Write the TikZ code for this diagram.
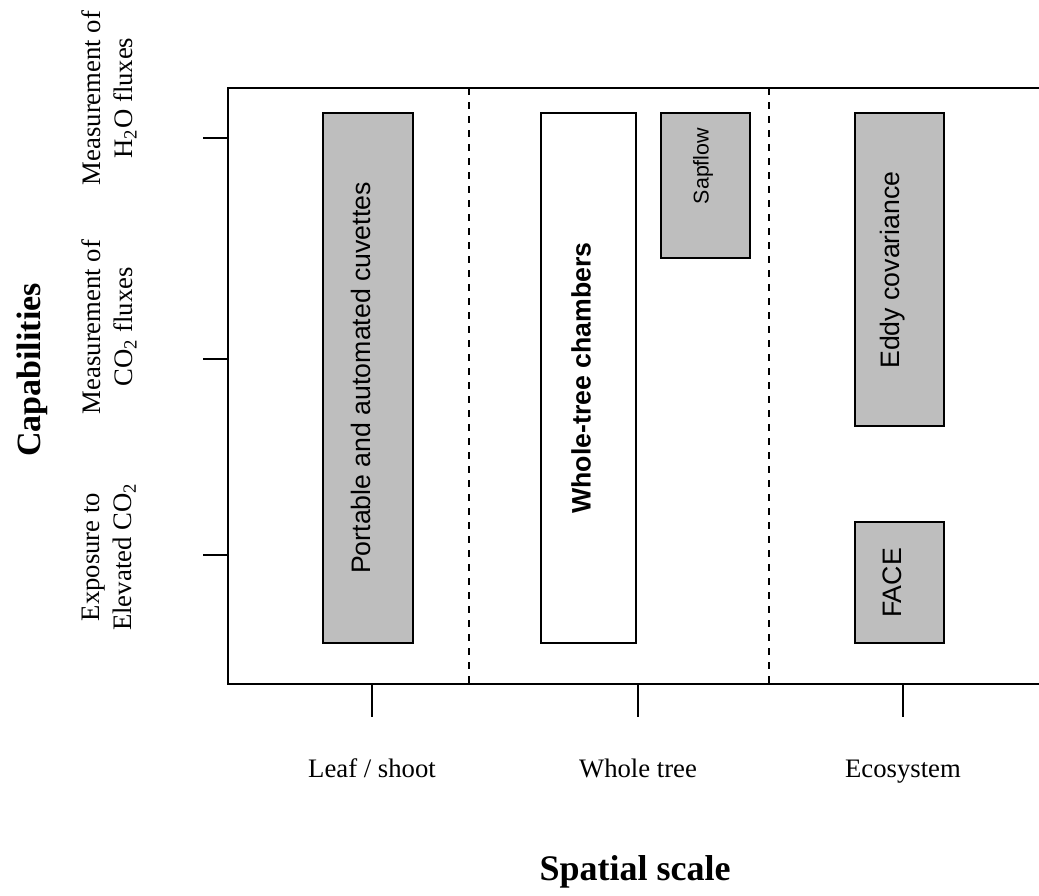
\documentclass[tikz,border=0pt]{standalone}
\usepackage{fontspec}
\setmainfont{Liberation Serif}
\setsansfont{Liberation Sans}
\definecolor{shade}{HTML}{BEBEBE}
\begin{document}
\begin{tikzpicture}[x=0.5pt,y=-0.5pt,
    axis/.style={line width=0.9pt},
    divider/.style={line width=0.9pt,dash pattern=on 3.5pt off 3.5pt},
    method/.style={draw,line width=0.9pt,fill=shade},
    methodlabel/.style={rotate=90,inner sep=0pt,font=\sffamily\fontsize{13.35}{16}\selectfont},
    caplabel/.style={rotate=90,align=center,inner sep=0pt,font=\fontsize{13.35}{16}\selectfont},
    scalelabel/.style={anchor=base,inner sep=0pt,font=\fontsize{13.35}{16}\selectfont},
    title/.style={inner sep=0pt,font=\bfseries\fontsize{18}{21}\selectfont}]
  \useasboundingbox (0,0) rectangle (1039,895);

  \coordinate (tl) at (228,88);
  \coordinate (bl) at (228,684);
  \draw[axis] (1039,88) -- (tl) -- (bl) -- (1039,684);

  \draw[divider] (469,88) -- (469,684);
  \draw[divider] (769,88) -- (769,684);

  \foreach \y in {138,359,555} \draw[axis] (203,\y) -- (228,\y);
  \foreach \x in {372,638,903} \draw[axis] (\x,684) -- (\x,717);

  \draw[method] (323,113) rectangle (413,643);
  \draw[method,fill=white] (541,113) rectangle (636,643);
  \draw[method] (661,113) rectangle (750,258);
  \draw[method] (855,113) rectangle (944,426);
  \draw[method] (855,522) rectangle (944,643);

  \node[methodlabel] (cuvettes) at (361,378) {Portable and automated cuvettes};
  \node[methodlabel] (chambers) at (581,378) {\bfseries Whole-tree chambers};
  \node[methodlabel] (sapflow) at (703,166) {\fontsize{10.7}{13}\selectfont Sapflow};
  \node[methodlabel] (eddy) at (893,270) {Eddy covariance};
  \node[methodlabel] (face) at (892,583) {FACE};

  \node[caplabel] (h2o) at (109,98) {Measurement of\\H\textsubscript{2}O fluxes};
  \node[caplabel] (co2) at (109,327) {Measurement of\\CO\textsubscript{2} fluxes};
  \node[caplabel] (elevated) at (109,557) {Exposure to\\Elevated CO\textsubscript{2}};
  \node[title,rotate=90,font=\bfseries\fontsize{17}{20}\selectfont] (capabilities) at (32,370) {Capabilities};

  \node[scalelabel] (leaf) at (372,777) {Leaf / shoot};
  \node[scalelabel] (tree) at (638,777) {Whole tree};
  \node[scalelabel] (ecosystem) at (903,777) {Ecosystem};
  \node[title,anchor=base] (spatial) at (635,880) {Spatial scale};
\end{tikzpicture}
\end{document}
